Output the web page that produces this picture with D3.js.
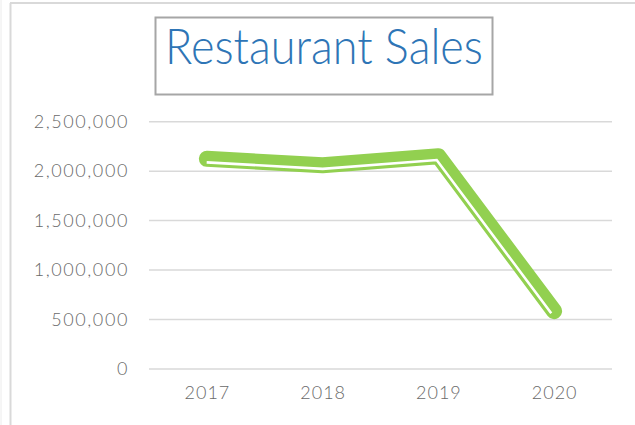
<!DOCTYPE html>
<html>
<head>
<meta charset="utf-8">
<script src="https://cdn.jsdelivr.net/npm/d3@7"></script>
<style>
  html, body { margin: 0; padding: 0; background: #fff; }
  svg { display: block; }
</style>
</head>
<body>
<div id="chart"></div>
<script>
const years = ['2017', '2018', '2019', '2020'];
const sales = [2125000, 2060000, 2150000, 585000];
const yTicks = [0, 500000, 1000000, 1500000, 2000000, 2500000];
const title = 'Restaurant Sales';

const w = 635;
const h = 425;
const plot = { left: 149, right: 612, top: 121.7, bottom: 369 };
const green = '#92d050';
const lineW = 16;

const svg = d3.select('#chart')
    .append('svg')
    .attr('width', w)
    .attr('height', h);

// chart area border
svg.append('line')
    .attr('x1', 10.5).attr('x2', 10.5).attr('y1', 3).attr('y2', h)
    .attr('stroke', '#d9d9d9').attr('stroke-width', 2);
svg.append('line')
    .attr('x1', 10).attr('x2', w).attr('y1', 3).attr('y2', 3)
    .attr('stroke', '#d9d9d9').attr('stroke-width', 2);
svg.append('line')
    .attr('x1', 1).attr('x2', 1).attr('y1', 0).attr('y2', h)
    .attr('stroke', '#ececec').attr('stroke-width', 1);

const x = d3.scalePoint()
    .domain(years)
    .range([plot.left, plot.right])
    .padding(0.5);

const y = d3.scaleLinear()
    .domain([0, 2500000])
    .range([plot.bottom, plot.top]);

// gridlines
svg.append('g')
    .selectAll('line')
    .data(yTicks)
    .enter()
    .append('line')
    .attr('x1', plot.left)
    .attr('x2', plot.right)
    .attr('y1', d => y(d))
    .attr('y2', d => y(d))
    .attr('stroke', '#d9d9d9')
    .attr('stroke-width', 1.5);

const labelFont = 'Lato, "Open Sans", sans-serif';

// y axis
const yAxis = d3.axisLeft(y)
    .tickValues(yTicks)
    .tickSize(0)
    .tickPadding(0)
    .tickFormat(d3.format(','));

const gy = svg.append('g')
    .attr('transform', `translate(129, 0)`)
    .call(yAxis);
gy.select('.domain').remove();
gy.selectAll('text')
    .attr('fill', '#6a6a6a')
    .attr('font-family', labelFont)
    .attr('font-weight', 300)
    .attr('font-size', 18)
    .attr('letter-spacing', 1.6);

// x axis
const xAxis = d3.axisBottom(x).tickSize(0).tickPadding(0);
const gx = svg.append('g')
    .attr('transform', `translate(0, 386)`)
    .call(xAxis);
gx.select('.domain').remove();
gx.selectAll('text')
    .attr('fill', '#6a6a6a')
    .attr('font-family', labelFont)
    .attr('font-weight', 300)
    .attr('font-size', 18)
    .attr('letter-spacing', 1);

// line: thick-thin compound stroke
const pts = years.map((yr, i) => [x(yr), y(sales[i])]);

svg.append('path')
    .datum(pts)
    .attr('d', d3.line())
    .attr('fill', 'none')
    .attr('stroke', green)
    .attr('stroke-width', lineW)
    .attr('stroke-linejoin', 'round')
    .attr('stroke-linecap', 'round');

// offset polyline for the white gap
const offset = (points, dist) => {
    const normals = [];
    for (let i = 0; i < points.length - 1; i++) {
        const dx = points[i + 1][0] - points[i][0];
        const dy = points[i + 1][1] - points[i][1];
        const len = Math.hypot(dx, dy);
        normals.push([-dy / len, dx / len]);
    }
    return points.map((p, i) => {
        if (i === 0) return [p[0] + normals[0][0] * dist, p[1] + normals[0][1] * dist];
        if (i === points.length - 1) {
            const n = normals[i - 1];
            return [p[0] + n[0] * dist, p[1] + n[1] * dist];
        }
        const a = normals[i - 1], b = normals[i];
        let mx = a[0] + b[0], my = a[1] + b[1];
        const ml = Math.hypot(mx, my);
        mx /= ml; my /= ml;
        const k = dist / (mx * a[0] + my * a[1]);
        return [p[0] + mx * k, p[1] + my * k];
    });
};

svg.append('path')
    .datum(offset(pts, 3.6))
    .attr('d', d3.line())
    .attr('fill', 'none')
    .attr('stroke', '#fff')
    .attr('stroke-width', 2.6)
    .attr('stroke-linejoin', 'miter')
    .attr('stroke-linecap', 'butt');

// title box
svg.append('rect')
    .attr('x', 155.5)
    .attr('y', 17.5)
    .attr('width', 337)
    .attr('height', 77)
    .attr('fill', '#fff')
    .attr('stroke', '#a6a6a6')
    .attr('stroke-width', 2);

svg.append('text')
    .attr('x', 165)
    .attr('y', 64)
    .attr('textLength', 318)
    .attr('lengthAdjust', 'spacingAndGlyphs')
    .attr('font-family', labelFont)
    .attr('font-weight', 300)
    .attr('font-size', 50)
    .attr('fill', '#2e75b6')
    .text(title);
</script>
</body>
</html>
